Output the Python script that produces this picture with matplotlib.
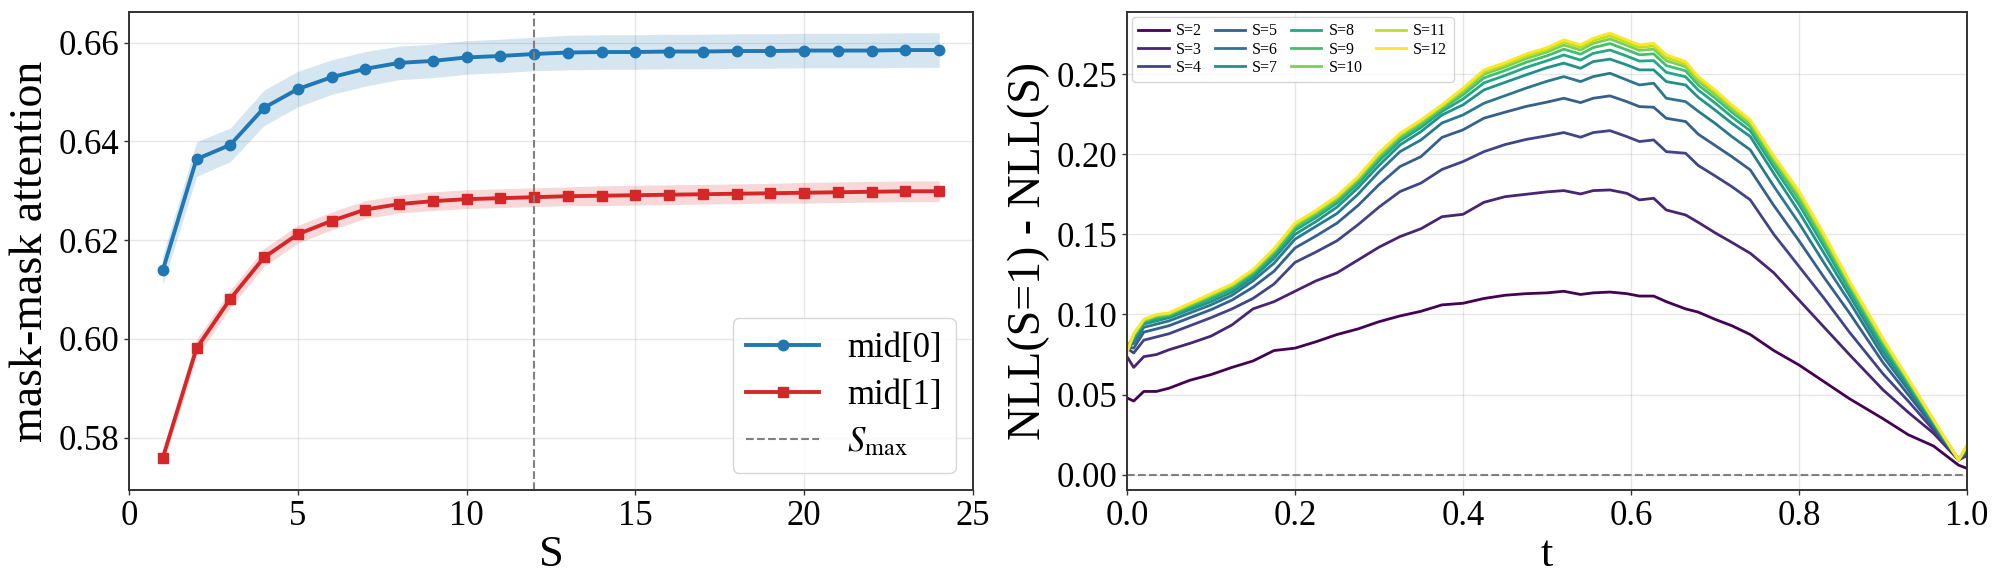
import matplotlib
matplotlib.use("Agg")
import matplotlib.pyplot as plt
import numpy as np

plt.rcParams['font.family'] = ['Liberation Serif', 'DejaVu Serif']
plt.rcParams['mathtext.fontset'] = 'stix'

# ---------------- Left panel data ----------------
S_vals = list(range(1, 25))
mid0_mean = [0.6139, 0.6364, 0.6393, 0.6468, 0.6506, 0.6530, 0.6547, 0.6559, 0.6563, 0.6570,
             0.6573, 0.6577, 0.6580, 0.6581, 0.6581, 0.6582, 0.6582, 0.6583, 0.6583, 0.6584,
             0.6584, 0.6584, 0.6585, 0.6585]
mid0_std = [0.0030, 0.0035, 0.0034, 0.0036, 0.0036, 0.0035, 0.0035, 0.0034, 0.0034, 0.0034,
            0.0034, 0.0034, 0.0035, 0.0035, 0.0035, 0.0035, 0.0035, 0.0035, 0.0035, 0.0035,
            0.0035, 0.0035, 0.0035, 0.0035]
mid1_mean = [0.5759, 0.5981, 0.6081, 0.6165, 0.6212, 0.6239, 0.6262, 0.6273, 0.6279, 0.6283,
             0.6285, 0.6287, 0.6289, 0.6290, 0.6291, 0.6292, 0.6293, 0.6294, 0.6295, 0.6296,
             0.6297, 0.6298, 0.6299, 0.6299]
mid1_std = [0.0015, 0.0018, 0.0018, 0.0018, 0.0018, 0.0018, 0.0018, 0.0018, 0.0019, 0.0019,
            0.0019, 0.0019, 0.0019, 0.0020, 0.0020, 0.0020, 0.0020, 0.0020, 0.0020, 0.0021,
            0.0021, 0.0021, 0.0021, 0.0021]
S_max = 12

# ---------------- Right panel data ----------------
t_grid = [0.0, 0.008, 0.02, 0.035, 0.05, 0.075, 0.1, 0.125, 0.15, 0.175, 0.2, 0.225, 0.25,
          0.275, 0.3, 0.325, 0.35, 0.375, 0.4, 0.425, 0.45, 0.475, 0.5, 0.52, 0.54, 0.555,
          0.575, 0.595, 0.61, 0.627, 0.642, 0.665, 0.68, 0.7, 0.72, 0.742, 0.77, 0.8, 0.83,
          0.86, 0.9, 0.93, 0.96, 0.99, 1.0]

nll_S2 = [0.048, 0.046, 0.052, 0.052, 0.054, 0.059, 0.0625, 0.067, 0.071, 0.0775, 0.079, 0.083,
          0.0875, 0.091, 0.0955, 0.0991, 0.102, 0.106, 0.107, 0.110, 0.112, 0.113, 0.1135, 0.1145,
          0.1125, 0.1135, 0.114, 0.113, 0.1115, 0.1115, 0.108, 0.1035, 0.1015, 0.097, 0.093,
          0.0875, 0.0775, 0.0685, 0.058, 0.0475, 0.035, 0.025, 0.018, 0.006, 0.004]
nll_S3 = [0.0737, 0.067, 0.0737, 0.075, 0.078, 0.082, 0.0865, 0.0935, 0.1035, 0.108, 0.1145,
          0.121, 0.126, 0.134, 0.142, 0.1486, 0.1535, 0.161, 0.1625, 0.170, 0.1735, 0.175, 0.1765,
          0.1773, 0.1752, 0.1773, 0.1777, 0.1756, 0.1715, 0.1725, 0.1652, 0.1621, 0.1575, 0.151,
          0.145, 0.1382, 0.126, 0.109, 0.092, 0.075, 0.053, 0.039, 0.026, 0.0092, 0.012]
nll_S4 = [0.079, 0.076, 0.084, 0.086, 0.088, 0.093, 0.098, 0.1035, 0.110, 0.119, 0.1325, 0.139,
          0.146, 0.156, 0.167, 0.1767, 0.182, 0.1905, 0.1954, 0.2016, 0.206, 0.2092, 0.2115,
          0.2135, 0.2106, 0.2135, 0.2147, 0.211, 0.2079, 0.2089, 0.2016, 0.2006, 0.193, 0.1865,
          0.1798, 0.1715, 0.150, 0.130, 0.110, 0.089, 0.063, 0.046, 0.028, 0.0095, 0.013]
nll_S5 = [0.080, 0.079, 0.089, 0.091, 0.093, 0.098, 0.103, 0.109, 0.117, 0.127, 0.1415, 0.149,
          0.157, 0.168, 0.181, 0.1923, 0.1985, 0.2105, 0.2152, 0.2225, 0.2262, 0.2298, 0.2325,
          0.2349, 0.2322, 0.2349, 0.2364, 0.2328, 0.2297, 0.2293, 0.2224, 0.2204, 0.2125, 0.2055,
          0.1985, 0.1902, 0.168, 0.146, 0.123, 0.101, 0.070, 0.050, 0.030, 0.0095, 0.014]
nll_S6 = [0.080, 0.082, 0.092, 0.094, 0.096, 0.101, 0.106, 0.112, 0.121, 0.132, 0.147, 0.155,
          0.163, 0.175, 0.189, 0.2016, 0.2089, 0.2195, 0.2245, 0.2318, 0.2365, 0.2412, 0.2455,
          0.2484, 0.2453, 0.2484, 0.2505, 0.2463, 0.2432, 0.2443, 0.2349, 0.2328, 0.2268, 0.2193,
          0.211, 0.2027, 0.180, 0.157, 0.132, 0.108, 0.074, 0.053, 0.031, 0.0095, 0.015]
nll_S7 = [0.079, 0.084, 0.094, 0.096, 0.098, 0.103, 0.108, 0.114, 0.123, 0.135, 0.150, 0.158,
          0.167, 0.179, 0.193, 0.2058, 0.2141, 0.2245, 0.2308, 0.2401, 0.2448, 0.2495, 0.254,
          0.2568, 0.2536, 0.2578, 0.2593, 0.2557, 0.2526, 0.2526, 0.2453, 0.2432, 0.2355, 0.2276,
          0.2193, 0.211, 0.188, 0.164, 0.138, 0.112, 0.077, 0.055, 0.032, 0.0093, 0.016]
nll_S8 = [0.080, 0.0854, 0.095, 0.0974, 0.099, 0.1044, 0.1098, 0.1158, 0.1248, 0.1371, 0.1525,
          0.1605, 0.1695, 0.1815, 0.1958, 0.2083, 0.2167, 0.2267, 0.2344, 0.2445, 0.2491, 0.2541,
          0.2583, 0.2619, 0.2587, 0.2629, 0.265, 0.2612, 0.2581, 0.2584, 0.2511, 0.2483, 0.240,
          0.232, 0.2233, 0.2146, 0.1919, 0.1686, 0.1422, 0.1152, 0.0798, 0.0568, 0.0329, 0.0093,
          0.0169]
nll_S9 = [0.079, 0.0864, 0.0958, 0.0984, 0.0998, 0.1054, 0.111, 0.117, 0.126, 0.1386, 0.1542,
          0.1622, 0.1712, 0.1832, 0.1978, 0.2101, 0.2185, 0.2283, 0.237, 0.2476, 0.2522, 0.2573,
          0.2614, 0.2655, 0.2624, 0.2665, 0.269, 0.2651, 0.262, 0.2626, 0.2553, 0.252, 0.2432,
          0.2351, 0.2262, 0.2172, 0.1946, 0.1718, 0.1452, 0.1174, 0.0818, 0.058, 0.0335, 0.0092,
          0.0176]
nll_S10 = [0.078, 0.0871, 0.0963, 0.0991, 0.1003, 0.1061, 0.1119, 0.1179, 0.1269, 0.1397, 0.1555,
           0.1635, 0.1725, 0.1845, 0.1992, 0.2114, 0.2198, 0.2294, 0.2389, 0.2499, 0.2544, 0.2596,
           0.2637, 0.2681, 0.265, 0.2691, 0.2719, 0.2679, 0.2648, 0.2655, 0.2583, 0.2546, 0.2456,
           0.2374, 0.2283, 0.2191, 0.1966, 0.1741, 0.1474, 0.119, 0.0832, 0.0589, 0.034, 0.0092,
           0.018]
nll_S11 = [0.077, 0.0876, 0.0967, 0.0996, 0.1007, 0.1066, 0.1125, 0.1185, 0.1275, 0.1404, 0.1563,
           0.1643, 0.1733, 0.1853, 0.2002, 0.2123, 0.2207, 0.2302, 0.2402, 0.2514, 0.2559, 0.2612,
           0.2652, 0.2699, 0.2667, 0.2709, 0.2739, 0.2697, 0.2666, 0.2675, 0.2603, 0.2563, 0.2471,
           0.2389, 0.2297, 0.2204, 0.1979, 0.1757, 0.1488, 0.1201, 0.0842, 0.0595, 0.0343, 0.0092,
           0.0183]
nll_S12 = [0.076, 0.088, 0.097, 0.100, 0.101, 0.107, 0.113, 0.119, 0.128, 0.141, 0.157, 0.165,
           0.174, 0.186, 0.201, 0.213, 0.2214, 0.2308, 0.2412, 0.2526, 0.2571, 0.2625, 0.2664,
           0.2713, 0.2682, 0.2723, 0.2755, 0.2713, 0.2682, 0.2692, 0.262, 0.2578, 0.2484, 0.2401,
           0.2308, 0.2214, 0.199, 0.177, 0.150, 0.121, 0.085, 0.060, 0.0345, 0.0092, 0.0186]

curve_labels = ['S=2', 'S=3', 'S=4', 'S=5', 'S=6', 'S=7', 'S=8', 'S=9', 'S=10', 'S=11', 'S=12']
curves = [nll_S2, nll_S3, nll_S4, nll_S5, nll_S6, nll_S7, nll_S8, nll_S9, nll_S10, nll_S11, nll_S12]

# ---------------- Figure ----------------
fig = plt.figure(figsize=(20, 5.81), dpi=100)
ax1 = fig.add_axes([0.0645, 0.1566, 0.422, 0.8227])
ax2 = fig.add_axes([0.5635, 0.1566, 0.420, 0.8227])

spine_color = '#333333'
for ax in (ax1, ax2):
    for sp in ax.spines.values():
        sp.set_color(spine_color)
        sp.set_linewidth(1.4)
    ax.tick_params(axis='both', labelsize=25, length=3.4, width=1.0, color=spine_color)
    ax.grid(True, color='#b0b0b0', alpha=0.3, linewidth=1.0)
    ax.set_axisbelow(True)

blue = '#1f77b4'
red = '#d62728'
m0 = np.array(mid0_mean); s0 = np.array(mid0_std)
m1 = np.array(mid1_mean); s1 = np.array(mid1_std)
ax1.fill_between(S_vals, m0 - s0, m0 + s0, color=blue, alpha=0.18, linewidth=0)
ax1.fill_between(S_vals, m1 - s1, m1 + s1, color=red, alpha=0.18, linewidth=0)
ax1.plot(S_vals, mid0_mean, color=blue, marker='o', markersize=7.5, linewidth=2.8, label='mid[0]')
ax1.plot(S_vals, mid1_mean, color=red, marker='s', markersize=7, linewidth=2.8, label='mid[1]')
ax1.axvline(S_max, color='gray', linestyle='--', linewidth=1.5, label=r'$S_{\max}$')
ax1.set_xlim(0, 25)
ax1.set_ylim(0.5694, 0.6662)
ax1.set_xticks([0, 5, 10, 15, 20, 25])
ax1.set_yticks([0.58, 0.60, 0.62, 0.64, 0.66])
ax1.set_yticklabels(['0.58', '0.60', '0.62', '0.64', '0.66'])
ax1.set_xlabel('S', fontsize=32, labelpad=2)
ax1.set_ylabel('mask-mask attention', fontsize=33, labelpad=5)
ax1.legend(loc='lower right', fontsize=25, handlelength=2.1, borderpad=0.4,
           labelspacing=0.4, handletextpad=0.8, framealpha=0.8, fancybox=True,
           borderaxespad=0.5)

colors = plt.cm.viridis(np.linspace(0, 1, len(curves)))
for c, lab, col in zip(curves, curve_labels, colors):
    ax2.plot(t_grid, c, color=col, linewidth=2.0, label=lab)
ax2.axhline(0.0, color='gray', linestyle='--', linewidth=1.5)
ax2.set_xlim(0, 1.0)
ax2.set_ylim(-0.0095, 0.2887)
ax2.set_xticks([0.0, 0.2, 0.4, 0.6, 0.8, 1.0])
ax2.set_xticklabels(['0.0', '0.2', '0.4', '0.6', '0.8', '1.0'])
ax2.set_yticks([0.00, 0.05, 0.10, 0.15, 0.20, 0.25])
ax2.set_yticklabels(['0.00', '0.05', '0.10', '0.15', '0.20', '0.25'])
ax2.set_xlabel('t', fontsize=32, labelpad=2)
ax2.set_ylabel('NLL(S=1) - NLL(S)', fontsize=33, labelpad=5)
ax2.legend(loc='upper left', ncol=4, fontsize=11.5, handlelength=1.9, labelspacing=0.15,
           handletextpad=0.46, columnspacing=0.8, borderpad=0.4, framealpha=0.8,
           borderaxespad=0.3)

fig.savefig('out.png', dpi=100)
